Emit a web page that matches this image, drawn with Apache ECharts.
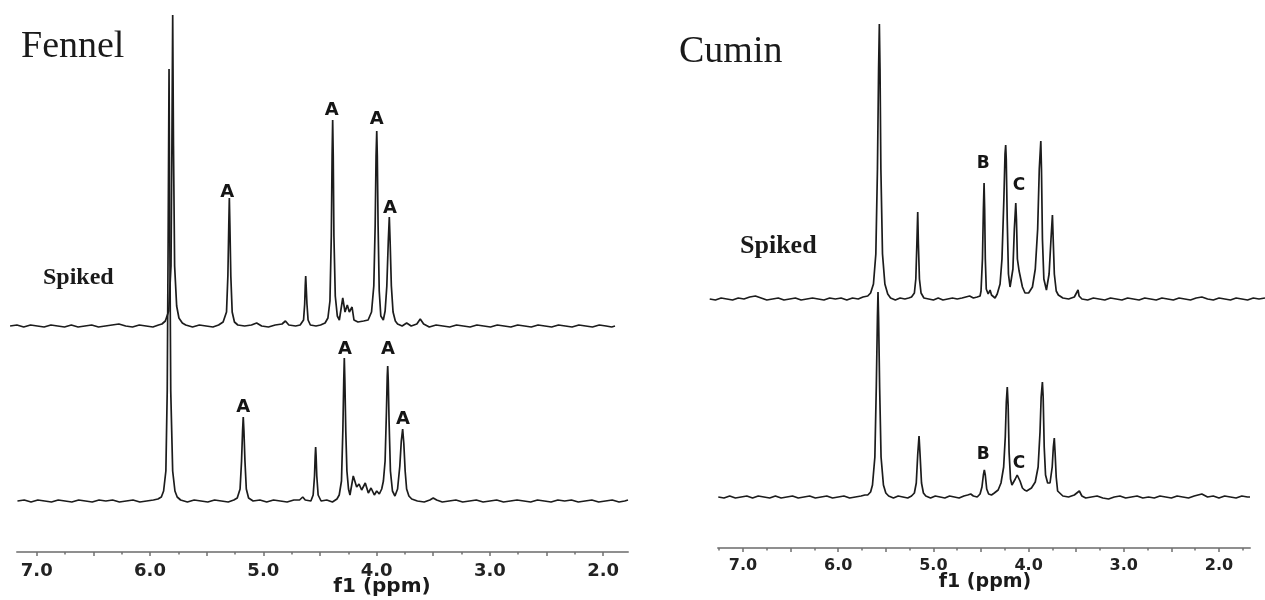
<!DOCTYPE html>
<html>
<head>
<meta charset="utf-8">
<title>Fennel / Cumin spiked 1H NMR</title>
<script src="https://cdn.jsdelivr.net/npm/echarts@6.0.0/dist/echarts.min.js"></script>
<style>
  html, body { margin: 0; padding: 0; background: #fff; }
  #chart { width: 1265px; height: 600px; }
</style>
</head>
<body>
<div id="chart"></div>
<script>
// tick values on the ppm axes
var majorTicks = [7.0, 6.5, 6.0, 5.5, 5.0, 4.5, 4.0, 3.5, 3.0, 2.5, 2.0]
var minorTicks = [7.25, 6.75, 6.25, 5.75, 5.25, 4.75, 4.25, 3.75, 3.25, 2.75, 2.25, 1.75]
var tickLabels = [7.0, 6.0, 5.0, 4.0, 3.0, 2.0]

// traces: [ppm, intensity (arbitrary, 0 = baseline)]
var fennelControl = [
  [7.17, 0], [7.11, 1], [7.05, -1], [6.99, 1], [6.93, 0], [6.87, -1], [6.81, 1], [6.75, 0], [6.69, -1], [6.63, 1],
  [6.57, 0], [6.51, -1], [6.45, 1], [6.39, 0], [6.33, 1], [6.27, -1], [6.21, 0], [6.15, 1], [6.09, -1], [6.03, 0], [5.97, 1],
  [5.93, 2], [5.90, 4], [5.88, 10], [5.86, 30], [5.848, 110], [5.840, 260], [5.832, 432], [5.825, 260], [5.817, 110],
  [5.80, 30], [5.78, 10], [5.76, 4], [5.73, 1],
  [5.67, -1], [5.61, 1], [5.55, 0], [5.49, -1], [5.43, 1], [5.37, 0], [5.31, -1], [5.26, 1],
  [5.23, 3], [5.205, 12], [5.192, 40], [5.183, 70], [5.177, 84], [5.171, 70], [5.162, 40], [5.15, 12], [5.13, 3],
  [5.09, 0], [5.03, 1], [4.97, -1], [4.91, 1], [4.85, 0], [4.79, -1], [4.73, 1], [4.68, 1], [4.652, 4], [4.63, 1], [4.58, 0],
  [4.56, 6], [4.548, 25], [4.542, 45], [4.538, 54], [4.534, 45], [4.528, 25], [4.516, 6], [4.49, 0], [4.44, 1], [4.39, -1], [4.35, 2],
  [4.33, 6], [4.31, 20], [4.298, 70], [4.29, 120], [4.285, 143], [4.28, 120], [4.272, 70], [4.262, 30], [4.248, 12], [4.235, 6],
  [4.206, 25], [4.176, 14], [4.155, 17], [4.132, 11], [4.10, 18], [4.073, 8], [4.049, 13], [4.02, 6], [3.999, 10], [3.976, 7], [3.955, 12],
  [3.94, 20], [3.925, 40], [3.913, 90], [3.906, 125], [3.902, 135], [3.897, 120], [3.89, 80], [3.878, 30], [3.86, 10], [3.838, 5],
  [3.815, 12], [3.795, 35], [3.782, 60], [3.770, 72], [3.760, 58], [3.748, 30], [3.735, 12], [3.715, 5], [3.69, 2],
  [3.64, 0], [3.58, -1], [3.53, 1], [3.50, 3], [3.47, 1], [3.42, -1], [3.36, 0], [3.30, 1], [3.24, -1], [3.18, 0], [3.12, 1],
  [3.06, -1], [3.00, 0], [2.94, 1], [2.88, -1], [2.82, 0], [2.76, 1], [2.70, 0], [2.64, -1], [2.58, 1], [2.52, 0], [2.46, -1],
  [2.40, 1], [2.34, 0], [2.28, 1], [2.22, -1], [2.16, 0], [2.10, 1], [2.04, -1], [1.98, 0], [1.92, 1], [1.86, -1], [1.81, 0], [1.781, 1]
]

var fennelSpiked = [
  [7.12, 0], [7.06, 1], [7.00, -1], [6.94, 1], [6.88, 0], [6.82, -1], [6.76, 1], [6.70, 0], [6.64, -1], [6.58, 1], [6.52, -1],
  [6.46, 0], [6.40, 1], [6.34, -1], [6.28, 0], [6.22, 1], [6.16, 2], [6.10, 0], [6.04, -1], [5.98, 1], [5.92, 0], [5.86, -1], [5.81, 1],
  [5.78, 2], [5.75, 5], [5.72, 15], [5.70, 60], [5.692, 180], [5.685, 311], [5.678, 180], [5.668, 60], [5.65, 20], [5.63, 8],
  [5.60, 3], [5.57, 1],
  [5.51, -1], [5.45, 1], [5.39, 0], [5.33, -1], [5.28, 1],
  [5.24, 4], [5.21, 14], [5.198, 50], [5.19, 100], [5.185, 128], [5.18, 100], [5.172, 50], [5.16, 14], [5.14, 4], [5.11, 1],
  [5.05, 0], [4.99, 1], [4.944, 3], [4.90, 0], [4.84, -1], [4.78, 1], [4.72, 2], [4.69, 5], [4.66, 1], [4.60, 0], [4.56, 1],
  [4.53, 6], [4.52, 22], [4.515, 40], [4.511, 50], [4.507, 40], [4.50, 22], [4.49, 6], [4.47, 1], [4.42, 0], [4.38, 1], [4.34, 3],
  [4.315, 8], [4.297, 25], [4.285, 90], [4.278, 170], [4.273, 206], [4.268, 170], [4.262, 90], [4.25, 30], [4.232, 10], [4.214, 6],
  [4.184, 28], [4.164, 14], [4.144, 21], [4.126, 14], [4.102, 19], [4.085, 6], [4.05, 4], [4.00, 5], [3.96, 6],
  [3.93, 14], [3.91, 40], [3.898, 100], [3.89, 170], [3.884, 195], [3.879, 170], [3.872, 100], [3.862, 35], [3.848, 10], [3.826, 6],
  [3.81, 15], [3.795, 40], [3.782, 85], [3.773, 109], [3.766, 85], [3.755, 40], [3.74, 14], [3.72, 5], [3.70, 2],
  [3.66, 0], [3.62, 3], [3.58, 0], [3.53, 2], [3.50, 7], [3.47, 2], [3.42, -1], [3.36, 1], [3.30, 0], [3.24, -1], [3.18, 1],
  [3.12, 0], [3.06, -1], [3.00, 1], [2.94, 0], [2.88, -1], [2.82, 1], [2.76, 0], [2.70, -1], [2.64, 1], [2.58, 0], [2.52, -1],
  [2.46, 1], [2.40, 0], [2.34, -1], [2.28, 1], [2.22, 0], [2.16, -1], [2.10, 1], [2.04, 0], [1.98, -1], [1.92, 1], [1.86, 0],
  [1.81, -1], [1.781, 0]
]

var cuminControl = [
  [7.26, 0], [7.20, -1], [7.14, 1], [7.08, -1], [7.02, 0], [6.96, 1], [6.90, -1], [6.84, 1], [6.78, 0], [6.72, -1], [6.66, 1],
  [6.60, -1], [6.54, 0], [6.48, 1], [6.42, -1], [6.36, 0], [6.30, 1], [6.24, -1], [6.18, 0], [6.12, 1], [6.06, -1], [6.00, 0],
  [5.94, 1], [5.88, -1], [5.82, 0], [5.76, 1], [5.72, 2],
  [5.69, 2], [5.66, 5], [5.64, 12], [5.615, 40], [5.60, 110], [5.588, 180], [5.582, 205], [5.576, 180], [5.565, 110],
  [5.55, 40], [5.525, 12], [5.50, 4], [5.47, 1],
  [5.42, -1], [5.37, 1], [5.32, 0], [5.27, -1], [5.23, 1],
  [5.20, 4], [5.18, 14], [5.165, 42], [5.151, 61], [5.14, 42], [5.125, 14], [5.105, 4], [5.08, 1],
  [5.03, -1], [4.98, 1], [4.93, 0], [4.88, -1], [4.83, 1], [4.78, 0], [4.73, -1], [4.68, 1], [4.64, 2], [4.608, 3], [4.58, 1], [4.54, 0],
  [4.51, 3], [4.49, 10], [4.475, 22], [4.465, 27], [4.455, 22], [4.44, 8], [4.42, 3], [4.39, 2], [4.36, 4],
  [4.32, 7], [4.29, 14], [4.262, 30], [4.245, 60], [4.234, 95], [4.224, 110], [4.215, 92], [4.205, 45], [4.19, 18], [4.175, 12], [4.161, 10],
  [4.14, 18], [4.12, 22], [4.108, 22], [4.09, 16], [4.065, 9], [4.043, 7],
  [4.02, 6], [3.97, 9], [3.93, 15], [3.90, 30], [3.88, 65], [3.868, 100], [3.855, 115], [3.847, 100], [3.836, 50], [3.822, 22],
  [3.80, 14], [3.775, 14],
  [3.752, 30], [3.740, 50], [3.730, 59], [3.722, 45], [3.71, 20], [3.695, 6], [3.675, 4], [3.64, 1], [3.58, 0], [3.52, 2],
  [3.467, 6], [3.44, 1], [3.40, -1], [3.34, 0], [3.28, 1], [3.22, -1], [3.16, -2], [3.10, 0], [3.04, 1], [2.98, -1], [2.92, 0],
  [2.86, 1], [2.80, -1], [2.74, 0], [2.68, -1], [2.62, 1], [2.56, 0], [2.50, -1], [2.44, 1], [2.38, 0], [2.32, -1], [2.26, 1],
  [2.18, 3], [2.12, 0], [2.06, 1], [2.00, -1], [1.94, 1], [1.88, 0], [1.82, -1], [1.76, 1], [1.70, 0], [1.674, 0]
]

var cuminSpiked = [
  [7.35, 0], [7.29, -1], [7.23, 1], [7.17, 0], [7.11, -1], [7.05, 1], [6.99, 0], [6.93, 2], [6.87, 3], [6.81, 1], [6.75, -1],
  [6.69, 0], [6.63, 1], [6.57, -1], [6.51, 0], [6.45, 1], [6.39, -1], [6.33, 0], [6.27, 1], [6.21, 0], [6.15, -1], [6.09, 1],
  [6.03, 0], [5.97, 1], [5.91, -1], [5.85, 1], [5.79, 0], [5.74, 2],
  [5.69, 3], [5.66, 6], [5.63, 15], [5.605, 45], [5.588, 130], [5.576, 230], [5.568, 275], [5.561, 230], [5.552, 130],
  [5.535, 45], [5.51, 15], [5.48, 5], [5.45, 1],
  [5.40, -1], [5.35, 1], [5.30, 0], [5.26, 1],
  [5.23, 2], [5.20, 6], [5.185, 20], [5.174, 55], [5.165, 87], [5.158, 55], [5.147, 20], [5.13, 6], [5.10, 1],
  [5.05, 0], [5.00, -1], [4.95, 1], [4.90, -1], [4.85, 0], [4.80, 1], [4.75, 0], [4.70, 1], [4.66, 2], [4.62, 3], [4.58, 1], [4.54, 2],
  [4.51, 3], [4.50, 8], [4.485, 40], [4.475, 90], [4.468, 116], [4.462, 90], [4.455, 40], [4.445, 10], [4.425, 5], [4.405, 9],
  [4.39, 4], [4.353, 1],
  [4.33, 5], [4.30, 15], [4.28, 40], [4.26, 100], [4.248, 145], [4.241, 154], [4.235, 140], [4.225, 80], [4.212, 25], [4.195, 12], [4.185, 11],
  [4.165, 30], [4.15, 70], [4.135, 96], [4.128, 80], [4.118, 40], [4.10, 28], [4.09, 26], [4.065, 12], [4.038, 6],
  [4.00, 6], [3.96, 12], [3.93, 30], [3.905, 70], [3.888, 130], [3.872, 158], [3.865, 130], [3.855, 60], [3.84, 20], [3.813, 9],
  [3.785, 25], [3.765, 60], [3.75, 84], [3.742, 60], [3.73, 25], [3.71, 8], [3.688, 4], [3.64, 1], [3.58, 0], [3.52, 2],
  [3.50, 4], [3.481, 9], [3.47, 3], [3.44, 0], [3.38, -1], [3.32, 1], [3.26, 0], [3.20, -1], [3.14, 1], [3.08, 0], [3.02, -1],
  [2.96, 1], [2.90, 0], [2.84, -1], [2.78, 1], [2.72, 0], [2.66, -1], [2.60, 1], [2.54, 0], [2.48, -1], [2.42, 1], [2.36, 0],
  [2.30, -1], [2.24, 1], [2.18, 2], [2.12, 0], [2.06, -1], [2.00, 1], [1.94, 0], [1.88, -1], [1.82, 1], [1.76, 0], [1.70, -1],
  [1.64, 1], [1.58, 0], [1.517, 1]
]

// peak annotations: [ppm, intensity at label centre, text]
var fennelControlMarks = [[5.177, 94, 'A'], [4.279, 152, 'A'], [3.899, 152, 'A'], [3.767, 82, 'A']]
var fennelSpikedMarks = [[5.203, 134, 'A'], [4.282, 216, 'A'], [3.884, 207, 'A'], [3.767, 118, 'A']]
var cuminControlMarks = [[4.476, 42, 'B'], [4.101, 33, 'C']]
var cuminSpikedMarks = [[4.476, 135, 'B'], [4.101, 113, 'C']]

var chart = echarts.init(document.getElementById('chart'))

function ppmAxis(grid, min, max, opts) {
  var ax = {
    type: 'value', gridIndex: grid, position: 'bottom', inverse: true, min: min, max: max,
    splitLine: { show: false },
    axisLine: { show: false, onZero: false },
    axisTick: { show: false },
    axisLabel: { show: false }
  }
  if (opts === 'major') {
    ax.axisLine = { show: true, onZero: false, lineStyle: { color: '#8f8f8f', width: 2 } }
    ax.axisTick = {
      show: true, length: 4, lineStyle: { color: '#707070', width: 1.5 },
      customValues: majorTicks.filter(function (v) { return v >= min && v <= max })
    }
  }
  if (opts === 'minor') {
    ax.axisTick = {
      show: true, length: 2.5, lineStyle: { color: '#707070', width: 1.5 },
      customValues: minorTicks.filter(function (v) { return v >= min && v <= max })
    }
  }
  return ax
}

function labelAxis(ax, size, margin) {
  ax.axisLabel = {
    show: true, customValues: tickLabels, margin: margin,
    fontFamily: 'DejaVu Sans', fontWeight: 'bold', fontSize: size, color: '#222',
    formatter: function (v) { return v.toFixed(1) }
  }
  return ax
}

function trace(data, xi, yi) {
  return {
    type: 'line', data: data, xAxisIndex: xi, yAxisIndex: yi,
    symbol: 'none', clip: false, silent: true,
    lineStyle: { color: '#1c1c1c', width: 1.7 }
  }
}

function marks(data, xi, yi, size) {
  return {
    type: 'scatter', data: data, xAxisIndex: xi, yAxisIndex: yi,
    symbolSize: 0, itemStyle: { color: '#fff', opacity: 1 }, silent: true,
    label: {
      show: true, position: 'inside', textBorderWidth: 0, opacity: 1,
      fontFamily: 'DejaVu Sans', fontWeight: 'bold', fontSize: size, color: '#151515',
      formatter: function (p) { return p.data[2] }
    }
  }
}

function text(x, y, str, font, align) {
  return {
    type: 'text', x: x, y: y, silent: true,
    style: { text: str, font: font, fill: '#1a1a1a', textAlign: align || 'left', textVerticalAlign: 'middle' }
  }
}

chart.setOption({
  animation: false,
  backgroundColor: '#fff',
  grid: [
    { left: 17, right: 637, top: 1, bottom: 48 },   // fennel control
    { left: 4, right: 650, top: 1, bottom: 254 },   // fennel spiked (offset trace)
    { left: 718, right: 15, top: 1, bottom: 52 },   // cumin control
    { left: 708, right: 0, top: 1, bottom: 281 }    // cumin spiked
  ],
  xAxis: [
    labelAxis(ppmAxis(0, 1.781, 7.174, 'major'), 18, 10),
    ppmAxis(0, 1.781, 7.174, 'minor'),
    ppmAxis(1, 1.781, 7.174),
    labelAxis(ppmAxis(2, 1.674, 7.263, 'major'), 16, 10),
    ppmAxis(2, 1.674, 7.263, 'minor'),
    ppmAxis(3, 1.517, 7.368)
  ],
  yAxis: [
    { type: 'value', gridIndex: 0, min: -51, max: 500, show: false },
    { type: 'value', gridIndex: 1, min: -20, max: 325, show: false },
    { type: 'value', gridIndex: 2, min: -51, max: 496, show: false },
    { type: 'value', gridIndex: 3, min: -20, max: 298, show: false }
  ],
  series: [
    trace(fennelControl, 0, 0),
    trace(fennelSpiked, 2, 1),
    trace(cuminControl, 3, 2),
    trace(cuminSpiked, 5, 3),
    marks(fennelControlMarks, 0, 0, 18),
    marks(fennelSpikedMarks, 2, 1, 18),
    marks(cuminControlMarks, 3, 2, 17),
    marks(cuminSpikedMarks, 5, 3, 17)
  ],
  graphic: [
    text(21, 47, 'Fennel', '38px "Liberation Serif"'),
    text(679, 52, 'Cumin', '38px "Liberation Serif"'),
    text(43, 278, 'Spiked', 'bold 24px "Liberation Serif"'),
    text(740, 246, 'Spiked', 'bold 26px "Liberation Serif"'),
    text(382, 587, 'f1 (ppm)', 'bold 20px "DejaVu Sans"', 'center'),
    text(985, 582, 'f1 (ppm)', 'bold 19px "DejaVu Sans"', 'center')
  ]
})
</script>
</body>
</html>
